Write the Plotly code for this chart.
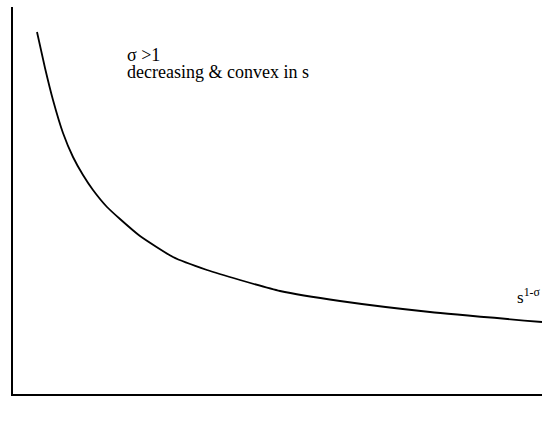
import plotly.graph_objects as go

# curve values (s, s^(1-sigma) in arbitrary units)
s_vals = [0.48, 0.64, 0.80, 1.00, 1.20, 1.40, 1.60, 1.88, 2.14, 2.54, 3.20, 3.88, 4.54, 5.34, 6.54, 8.34, 10.58]
y_vals = [7.24, 6.52, 5.88, 5.22, 4.74, 4.38, 4.08, 3.74, 3.50, 3.16, 2.74, 2.48, 2.28, 2.06, 1.86, 1.64, 1.44]

label_top = "σ >1"
label_mid = "decreasing & convex in s"
curve_label = "s<sup>1-σ</sup>"
axis_label = "s"

SERIF = "Liberation Serif"

fig = go.Figure()
fig.add_trace(go.Scatter(x=s_vals, y=y_vals, mode="lines",
                         line=dict(color="black", width=1.8, shape="spline", smoothing=0.5),
                         hoverinfo="skip", showlegend=False))

font = dict(family=SERIF, size=18, color="black")
fig.add_annotation(x=2.26, y=6.78, xref="x", yref="y", text=label_top, showarrow=False,
                   xanchor="left", yanchor="middle", font=font, borderpad=0)
fig.add_annotation(x=2.26, y=6.44, xref="x", yref="y", text=label_mid, showarrow=False,
                   xanchor="left", yanchor="middle", font=font, borderpad=0)
fig.add_annotation(x=10.04, y=1.96, xref="x", yref="y", text=curve_label, showarrow=False,
                   xanchor="left", yanchor="middle",
                   font=dict(family=SERIF, size=17, color="black"))
fig.add_annotation(x=10.54, y=-0.36, xref="x", yref="y", text=axis_label, showarrow=False,
                   xanchor="left", yanchor="middle",
                   font=dict(family=SERIF, size=14, color="#d0d0d0"))

fig.update_layout(
    width=542, height=422,
    margin=dict(l=13, r=0, t=7, b=28, autoexpand=False),
    paper_bgcolor="white", plot_bgcolor="white",
    xaxis=dict(range=[0, 10.58], showgrid=False, zeroline=False, showticklabels=False,
               ticks="", showline=True, linecolor="black", linewidth=2, fixedrange=True),
    yaxis=dict(range=[0, 7.74], showgrid=False, zeroline=False, showticklabels=False,
               ticks="", showline=True, linecolor="black", linewidth=2, fixedrange=True),
)

fig.write_html("out.html",
               config={"displayModeBar": False, "staticPlot": True},
               post_script="document.body.style.margin='0';document.body.style.overflow='hidden';")
